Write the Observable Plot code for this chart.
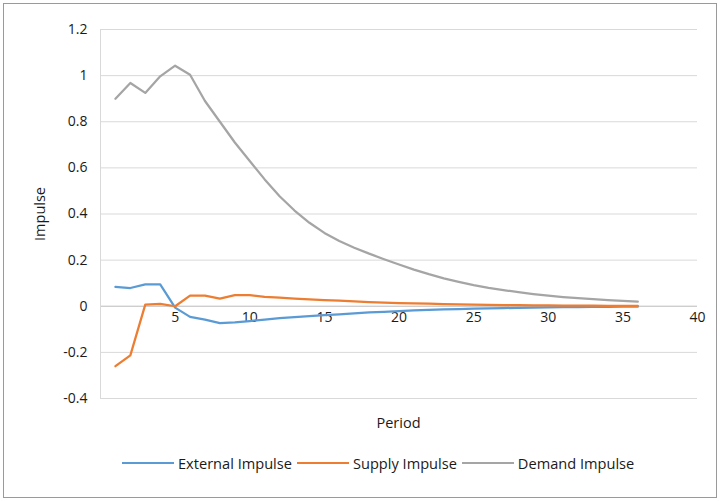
<!DOCTYPE html>
<html>
<head>
<meta charset="utf-8">
<script src="https://cdn.jsdelivr.net/npm/d3@7"></script>
<script src="https://cdn.jsdelivr.net/npm/@observablehq/plot@0.6"></script>
<style>
  body { margin: 0; background: #fff; font-family: "Open Sans", sans-serif; color: #1a1a1a; }
  #wrap { position: relative; width: 720px; height: 501px; overflow: hidden; }
  #frame { position: absolute; left: 3px; top: 3px; width: 712px; height: 493px; border: 1px solid #9a9a9a; }
  #chart { position: absolute; left: 0; top: 0; }
  #xlabel { position: absolute; left: 100px; width: 597px; top: 413px; text-align: center; font-size: 14.5px; }
  #legend { position: absolute; left: 122px; top: 453px; display: flex; align-items: center; font-size: 14.6px; white-space: nowrap; }
  .item { display: flex; align-items: center; margin-right: 5px; }
  .sw { width: 52px; height: 2.5px; margin-right: 4px; }
</style>
</head>
<body>
<div id="wrap">
  <div id="frame"></div>
  <div id="chart"></div>
  <div id="xlabel">Period</div>
  <div id="legend"></div>
</div>
<script>
const periods = [1,2,3,4,5,6,7,8,9,10,11,12,13,14,15,16,17,18,19,20,21,22,23,24,25,26,27,28,29,30,31,32,33,34,35,36];
const externalImpulse = [0.084,0.079,0.095,0.095,-0.006,-0.046,-0.058,-0.073,-0.070,-0.064,-0.058,-0.052,-0.047,-0.043,-0.039,-0.035,-0.031,-0.027,-0.024,-0.021,-0.018,-0.016,-0.014,-0.012,-0.010,-0.009,-0.008,-0.007,-0.006,-0.005,-0.004,-0.004,-0.003,-0.003,-0.002,-0.002];
const supplyImpulse = [-0.26,-0.213,0.007,0.01,0.0,0.046,0.046,0.033,0.048,0.048,0.041,0.037,0.033,0.030,0.027,0.024,0.021,0.018,0.016,0.014,0.012,0.011,0.009,0.008,0.007,0.006,0.005,0.005,0.004,0.004,0.003,0.003,0.003,0.002,0.002,0.002];
const demandImpulse = [0.90,0.968,0.925,0.997,1.043,1.004,0.89,0.80,0.71,0.63,0.55,0.477,0.415,0.362,0.318,0.283,0.254,0.228,0.204,0.181,0.159,0.139,0.121,0.106,0.092,0.080,0.070,0.061,0.053,0.046,0.040,0.035,0.031,0.027,0.023,0.020];
const seriesNames = ["External Impulse", "Supply Impulse", "Demand Impulse"];
const seriesColors = ["#5B9BD5", "#ED7D31", "#A5A5A5"];
const xTicks = [5,10,15,20,25,30,35,40];
const yTicks = [-0.4,-0.2,0,0.2,0.4,0.6,0.8,1,1.2];
const yLabel = "Impulse";

const seriesValues = [externalImpulse, supplyImpulse, demandImpulse];
const rows = seriesNames.flatMap((name, i) => periods.map((p, j) => ({series: name, period: p, value: seriesValues[i][j]})));

const chart = Plot.plot({
  width: 720,
  height: 410,
  marginLeft: 100,
  marginRight: 23,
  marginTop: 29,
  marginBottom: 12,
  style: {fontFamily: "Open Sans, sans-serif", fontSize: "14px", color: "#1a1a1a", background: "transparent"},
  x: {domain: [0, 40], axis: null},
  y: {domain: [-0.4, 1.2], axis: null},
  color: {domain: seriesNames, range: seriesColors},
  marks: [
    Plot.gridY(yTicks, {stroke: "#D9D9D9", strokeOpacity: 1}),
    Plot.ruleY([0], {stroke: "#C8C8C8", strokeWidth: 1}),
    Plot.ruleX([0], {stroke: "#D9D9D9", strokeWidth: 1}),
    Plot.axisY(yTicks, {tickSize: 0, tickPadding: 13, tickFormat: d => String(+d.toFixed(1)), label: null, fontSize: 14}),
    Plot.text([yLabel], {frameAnchor: "left", dx: -60, rotate: -90, textAnchor: "middle", text: d => d, fontSize: 14.5, fill: "#1a1a1a"}),
    Plot.text(xTicks, {x: d => d, y: 0, dy: 11, text: d => String(d), fontSize: 14, fill: "#1a1a1a"}),
    Plot.line(rows, {x: "period", y: "value", z: "series", stroke: "series", strokeWidth: 2.25, strokeLinejoin: "round"})
  ]
});
document.getElementById("chart").appendChild(chart);

const legend = document.getElementById("legend");
seriesNames.forEach((name, i) => {
  const item = document.createElement("div");
  item.className = "item";
  const sw = document.createElement("div");
  sw.className = "sw";
  sw.style.background = seriesColors[i];
  const label = document.createElement("span");
  label.textContent = name;
  item.appendChild(sw);
  item.appendChild(label);
  legend.appendChild(item);
});
</script>
</body>
</html>
